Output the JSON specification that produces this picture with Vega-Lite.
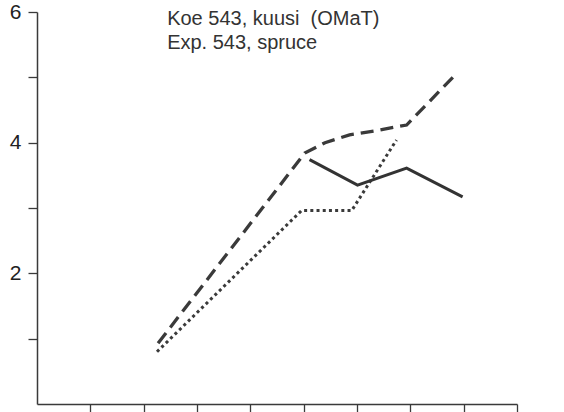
{
  "$schema": "https://vega.github.io/schema/vega-lite/v6.json",
  "width": 480,
  "height": 392,
  "autosize": {"type": "none"},
  "padding": {"left": 37, "top": 12, "right": 47, "bottom": 8},
  "background": "white",
  "config": {
    "view": {"stroke": null},
    "font": "Liberation Sans",
    "axis": {"domainColor": "#3a3a3a", "tickColor": "#3a3a3a", "domainWidth": 1.5, "tickWidth": 1.3, "grid": false, "title": null}
  },
  "datasets": {
    "series": [
      {"s": "dashed", "x": 2.27, "y": 0.93},
      {"s": "dashed", "x": 5.02, "y": 3.84},
      {"s": "dashed", "x": 5.4, "y": 4.0},
      {"s": "dashed", "x": 5.86, "y": 4.12},
      {"s": "dashed", "x": 6.4, "y": 4.19},
      {"s": "dashed", "x": 6.93, "y": 4.27},
      {"s": "dashed", "x": 7.88, "y": 5.07},
      {"s": "dotted", "x": 2.25, "y": 0.8},
      {"s": "dotted", "x": 4.96, "y": 2.96},
      {"s": "dotted", "x": 5.9, "y": 2.96},
      {"s": "dotted", "x": 6.74, "y": 4.04},
      {"s": "solid", "x": 5.11, "y": 3.74},
      {"s": "solid", "x": 6.01, "y": 3.35},
      {"s": "solid", "x": 6.93, "y": 3.61},
      {"s": "solid", "x": 7.98, "y": 3.17}
    ],
    "caption": [
      {"x": 2.44, "y": 5.8, "t": "Koe 543, kuusi\u00a0\u00a0(OMaT)"},
      {"x": 2.44, "y": 5.44, "t": "Exp. 543, spruce"}
    ]
  },
  "encoding": {
    "x": {
      "field": "x", "type": "quantitative",
      "scale": {"domain": [0, 9], "nice": false, "zero": false},
      "axis": {"values": [1, 2, 3, 4, 5, 6, 7, 8, 9], "labels": false, "tickSize": 8}
    },
    "y": {
      "field": "y", "type": "quantitative",
      "scale": {"domain": [0, 6], "nice": false},
      "axis": {
        "values": [1, 2, 3, 4, 5, 6],
        "tickSize": 9,
        "labelPadding": 7,
        "labelFontSize": 21,
        "labelColor": "#222222",
        "labelExpr": "datum.value % 2 == 0 ? datum.label : ''"
      }
    }
  },
  "layer": [
    {
      "data": {"name": "series"},
      "transform": [{"filter": "datum.s == 'dashed'"}],
      "mark": {"type": "line", "color": "#3a3a3a", "strokeWidth": 3.3, "strokeDash": [13, 7]}
    },
    {
      "data": {"name": "series"},
      "transform": [{"filter": "datum.s == 'dotted'"}],
      "mark": {"type": "line", "color": "#3a3a3a", "strokeWidth": 3, "strokeDash": [3, 3.2]}
    },
    {
      "data": {"name": "series"},
      "transform": [{"filter": "datum.s == 'solid'"}],
      "mark": {"type": "line", "color": "#333333", "strokeWidth": 3}
    },
    {
      "data": {"name": "caption"},
      "mark": {"type": "text", "align": "left", "baseline": "alphabetic", "fontSize": 20, "color": "#333333"},
      "encoding": {"text": {"field": "t"}}
    }
  ]
}
